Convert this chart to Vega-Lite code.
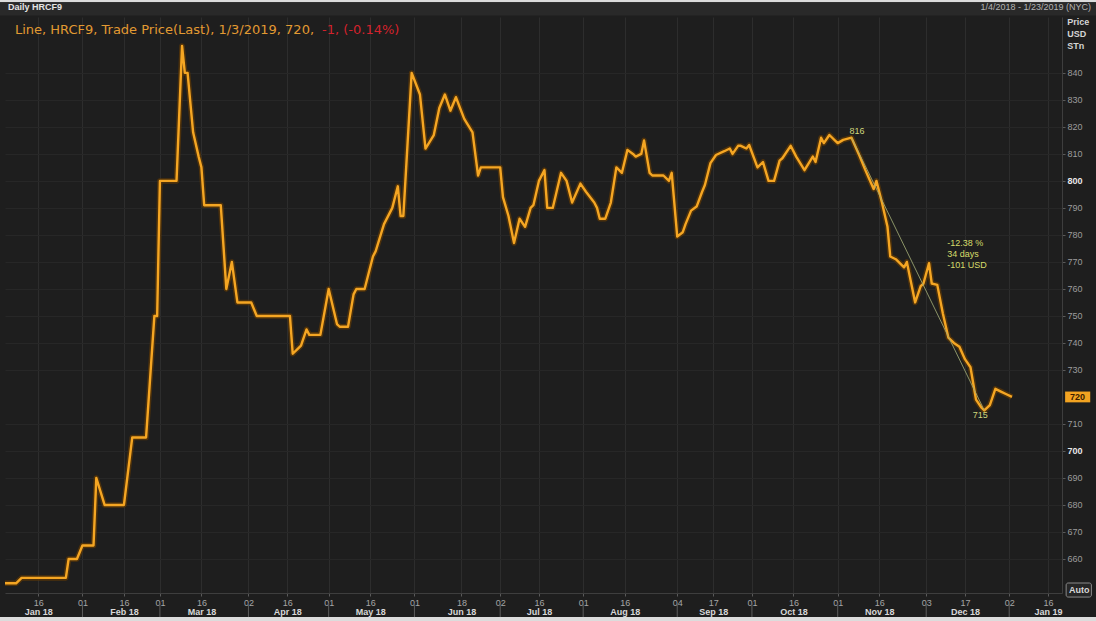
{
  "$schema": "https://vega.github.io/schema/vega-lite/v6.json",
  "width": 1057,
  "height": 576,
  "autosize": "none",
  "padding": {"left": 5, "top": 17, "right": 34, "bottom": 28},
  "background": "#1e1e1e",
  "config": {"view": {"stroke": null}, "font": "Liberation Sans"},
  "datasets": {
    "price": [
      {"date": "2018-01-04", "value": 651}, {"date": "2018-01-08", "value": 651}, {"date": "2018-01-10", "value": 653},
      {"date": "2018-01-26", "value": 653}, {"date": "2018-01-27", "value": 660}, {"date": "2018-01-30", "value": 660},
      {"date": "2018-02-01", "value": 665}, {"date": "2018-02-05", "value": 665}, {"date": "2018-02-06", "value": 690},
      {"date": "2018-02-09", "value": 680}, {"date": "2018-02-16", "value": 680}, {"date": "2018-02-19", "value": 705},
      {"date": "2018-02-24", "value": 705}, {"date": "2018-02-27", "value": 750}, {"date": "2018-02-28", "value": 750},
      {"date": "2018-03-01", "value": 800}, {"date": "2018-03-07", "value": 800}, {"date": "2018-03-09", "value": 850},
      {"date": "2018-03-10", "value": 840}, {"date": "2018-03-11", "value": 840}, {"date": "2018-03-13", "value": 818},
      {"date": "2018-03-15", "value": 809}, {"date": "2018-03-16", "value": 805}, {"date": "2018-03-17", "value": 791},
      {"date": "2018-03-23", "value": 791}, {"date": "2018-03-25", "value": 760}, {"date": "2018-03-27", "value": 770},
      {"date": "2018-03-29", "value": 755}, {"date": "2018-04-03", "value": 755}, {"date": "2018-04-05", "value": 750},
      {"date": "2018-04-17", "value": 750}, {"date": "2018-04-18", "value": 736}, {"date": "2018-04-20", "value": 738},
      {"date": "2018-04-21", "value": 739}, {"date": "2018-04-23", "value": 745}, {"date": "2018-04-24", "value": 743},
      {"date": "2018-04-28", "value": 743}, {"date": "2018-05-01", "value": 760}, {"date": "2018-05-04", "value": 747},
      {"date": "2018-05-05", "value": 746}, {"date": "2018-05-08", "value": 746}, {"date": "2018-05-10", "value": 758},
      {"date": "2018-05-11", "value": 760}, {"date": "2018-05-14", "value": 760}, {"date": "2018-05-17", "value": 772},
      {"date": "2018-05-18", "value": 774}, {"date": "2018-05-21", "value": 784}, {"date": "2018-05-24", "value": 790},
      {"date": "2018-05-26", "value": 798}, {"date": "2018-05-27", "value": 787}, {"date": "2018-05-28", "value": 787},
      {"date": "2018-05-31", "value": 840}, {"date": "2018-06-03", "value": 832}, {"date": "2018-06-05", "value": 812},
      {"date": "2018-06-08", "value": 817}, {"date": "2018-06-10", "value": 827}, {"date": "2018-06-12", "value": 832},
      {"date": "2018-06-14", "value": 826}, {"date": "2018-06-16", "value": 831}, {"date": "2018-06-19", "value": 823},
      {"date": "2018-06-22", "value": 818}, {"date": "2018-06-24", "value": 802}, {"date": "2018-06-25", "value": 805},
      {"date": "2018-07-02", "value": 805}, {"date": "2018-07-03", "value": 794}, {"date": "2018-07-05", "value": 787},
      {"date": "2018-07-07", "value": 777}, {"date": "2018-07-09", "value": 786}, {"date": "2018-07-11", "value": 783},
      {"date": "2018-07-13", "value": 790}, {"date": "2018-07-14", "value": 791}, {"date": "2018-07-16", "value": 800},
      {"date": "2018-07-18", "value": 804}, {"date": "2018-07-19", "value": 790}, {"date": "2018-07-21", "value": 790},
      {"date": "2018-07-24", "value": 803}, {"date": "2018-07-26", "value": 800}, {"date": "2018-07-28", "value": 792},
      {"date": "2018-07-31", "value": 799}, {"date": "2018-08-02", "value": 796}, {"date": "2018-08-05", "value": 792},
      {"date": "2018-08-06", "value": 790}, {"date": "2018-08-07", "value": 786}, {"date": "2018-08-09", "value": 786},
      {"date": "2018-08-11", "value": 792}, {"date": "2018-08-13", "value": 805}, {"date": "2018-08-15", "value": 803},
      {"date": "2018-08-17", "value": 811.5}, {"date": "2018-08-19", "value": 810}, {"date": "2018-08-20", "value": 809},
      {"date": "2018-08-22", "value": 810}, {"date": "2018-08-23", "value": 815}, {"date": "2018-08-25", "value": 803},
      {"date": "2018-08-26", "value": 802}, {"date": "2018-08-30", "value": 802}, {"date": "2018-09-01", "value": 800},
      {"date": "2018-09-02", "value": 803}, {"date": "2018-09-04", "value": 779.4}, {"date": "2018-09-06", "value": 781},
      {"date": "2018-09-07", "value": 784}, {"date": "2018-09-09", "value": 789}, {"date": "2018-09-11", "value": 790.5},
      {"date": "2018-09-13", "value": 796}, {"date": "2018-09-14", "value": 798.5}, {"date": "2018-09-16", "value": 806.6},
      {"date": "2018-09-18", "value": 809.6}, {"date": "2018-09-21", "value": 811}, {"date": "2018-09-23", "value": 812},
      {"date": "2018-09-24", "value": 810}, {"date": "2018-09-26", "value": 813}, {"date": "2018-09-27", "value": 813},
      {"date": "2018-09-29", "value": 812}, {"date": "2018-09-30", "value": 813.3}, {"date": "2018-10-03", "value": 805},
      {"date": "2018-10-05", "value": 807}, {"date": "2018-10-07", "value": 800}, {"date": "2018-10-09", "value": 800},
      {"date": "2018-10-11", "value": 807.5}, {"date": "2018-10-12", "value": 808.4}, {"date": "2018-10-15", "value": 813},
      {"date": "2018-10-17", "value": 809}, {"date": "2018-10-20", "value": 804}, {"date": "2018-10-23", "value": 809},
      {"date": "2018-10-24", "value": 807}, {"date": "2018-10-26", "value": 816}, {"date": "2018-10-27", "value": 814},
      {"date": "2018-10-29", "value": 817}, {"date": "2018-11-01", "value": 814}, {"date": "2018-11-03", "value": 815.2},
      {"date": "2018-11-06", "value": 816}, {"date": "2018-11-09", "value": 809}, {"date": "2018-11-11", "value": 804},
      {"date": "2018-11-14", "value": 797}, {"date": "2018-11-15", "value": 800}, {"date": "2018-11-17", "value": 792},
      {"date": "2018-11-19", "value": 783}, {"date": "2018-11-20", "value": 772}, {"date": "2018-11-22", "value": 771},
      {"date": "2018-11-25", "value": 768}, {"date": "2018-11-26", "value": 770}, {"date": "2018-11-29", "value": 755},
      {"date": "2018-12-01", "value": 761}, {"date": "2018-12-02", "value": 762}, {"date": "2018-12-04", "value": 769.5},
      {"date": "2018-12-05", "value": 762}, {"date": "2018-12-07", "value": 761.5}, {"date": "2018-12-09", "value": 751},
      {"date": "2018-12-11", "value": 742}, {"date": "2018-12-13", "value": 740}, {"date": "2018-12-15", "value": 738.6},
      {"date": "2018-12-17", "value": 734}, {"date": "2018-12-19", "value": 731}, {"date": "2018-12-20", "value": 725},
      {"date": "2018-12-21", "value": 719}, {"date": "2018-12-23", "value": 716}, {"date": "2018-12-24", "value": 715},
      {"date": "2018-12-26", "value": 717}, {"date": "2018-12-28", "value": 723}, {"date": "2018-12-30", "value": 722},
      {"date": "2019-01-01", "value": 721}, {"date": "2019-01-03", "value": 720}
    ],
    "trend": [
      {"date": "2018-11-06", "value": 816},
      {"date": "2018-12-24", "value": 715}
    ],
    "frame": [
      {"g": "border", "date": "2017-12-25", "date2": "2019-02-10", "value": 870, "value2": 866.2},
      {"g": "border", "date": "2017-12-25", "date2": "2019-02-10", "value": 638.5, "value2": 634},
      {"g": "band", "date": "2017-12-25", "date2": "2019-02-10", "value": 866.2, "value2": 861.3},
      {"g": "tag", "date": "2019-01-22T05:00:00Z", "date2": "2019-01-31T07:00:00Z", "value": 722, "value2": 718},
      {"g": "auto", "date": "2019-01-22T14:00:00Z", "date2": "2019-01-31T17:00:00Z", "value": 651.1, "value2": 645.9}
    ],
    "seps": [
      {"date": "2018-02-01"}, {"date": "2018-03-01"}, {"date": "2018-04-02"}, {"date": "2018-05-01"},
      {"date": "2018-06-01"}, {"date": "2018-07-02"}, {"date": "2018-08-01"}, {"date": "2018-09-04"},
      {"date": "2018-10-01"}, {"date": "2018-11-01"}, {"date": "2018-12-03"}, {"date": "2019-01-02"}
    ],
    "notes": [
      {"g": "hdr", "t": "Daily HRCF9", "date": "2018-01-05T02:00:00Z", "value": 864.3},
      {"g": "rng", "t": "1/4/2018 - 1/23/2019 (NYC)", "date": "2019-01-31T14:00:00Z", "value": 864.3},
      {"g": "unit", "t": "Price", "date": "2019-01-22T23:00:00Z", "value": 858.9},
      {"g": "unit", "t": "USD", "date": "2019-01-22T23:00:00Z", "value": 854.4},
      {"g": "unit", "t": "STn", "date": "2019-01-22T23:00:00Z", "value": 850.0},
      {"g": "leg", "t": "Line, HRCF9, Trade Price(Last), 1/3/2019, 720,", "date": "2018-01-07T14:00:00Z", "value": 855.9},
      {"g": "chg", "t": "-1, (-0.14%)", "date": "2018-04-28T14:00:00Z", "value": 855.9},
      {"g": "pt", "t": "816", "date": "2018-11-08T00:00:00Z", "value": 818.5},
      {"g": "pt", "t": "715", "date": "2018-12-22T12:00:00Z", "value": 713.3},
      {"g": "stat", "t": "-12.38 %", "date": "2018-12-10T14:00:00Z", "value": 777.0},
      {"g": "stat", "t": "34 days", "date": "2018-12-10T14:00:00Z", "value": 772.9},
      {"g": "stat", "t": "-101 USD", "date": "2018-12-10T14:00:00Z", "value": 768.9},
      {"g": "tag", "t": "720", "date": "2019-01-26T17:00:00Z", "value": 720},
      {"g": "auto", "t": "Auto", "date": "2019-01-27T07:00:00Z", "value": 648.5}
    ]
  },
  "layer": [
    {
      "data": {"name": "frame"},
      "transform": [{"filter": "datum.g === 'border'"}],
      "mark": {"type": "rect", "fill": "#dcdcdc"},
      "encoding": {
        "x": {"field": "date", "type": "temporal", "axis": null},
        "x2": {"field": "date2"},
        "y": {"field": "value", "type": "quantitative", "axis": null},
        "y2": {"field": "value2"}
      }
    },
    {
      "data": {"name": "frame"},
      "transform": [{"filter": "datum.g === 'band'"}],
      "mark": {"type": "rect", "fill": "#292929"},
      "encoding": {
        "x": {"field": "date", "type": "temporal", "axis": null},
        "x2": {"field": "date2"},
        "y": {"field": "value", "type": "quantitative", "axis": null},
        "y2": {"field": "value2"}
      }
    },
    {
      "data": {"name": "seps"},
      "mark": {"type": "rule", "stroke": "#5c5c5c", "strokeWidth": 1},
      "encoding": {
        "x": {"field": "date", "type": "temporal", "axis": null},
        "y": {"datum": 643.7, "type": "quantitative", "axis": null},
        "y2": {"datum": 638.5}
      }
    },
    {
      "data": {"name": "price"},
      "mark": {"type": "line", "stroke": "#5e3806", "strokeWidth": 5.5, "opacity": 0.75, "strokeJoin": "round"},
      "encoding": {
        "x": {
          "field": "date", "type": "temporal",
          "scale": {"type": "utc", "domain": [{"year": 2018, "month": 1, "date": 4, "utc": true}, {"year": 2019, "month": 1, "date": 21, "hours": 2, "utc": true}]},
          "axis": {
            "title": null,
            "values": [
              {"year": 2018, "month": 1, "date": 16, "utc": true}, {"year": 2018, "month": 2, "date": 1, "utc": true},
              {"year": 2018, "month": 2, "date": 16, "utc": true}, {"year": 2018, "month": 3, "date": 1, "utc": true},
              {"year": 2018, "month": 3, "date": 16, "utc": true}, {"year": 2018, "month": 4, "date": 2, "utc": true},
              {"year": 2018, "month": 4, "date": 16, "utc": true}, {"year": 2018, "month": 5, "date": 1, "utc": true},
              {"year": 2018, "month": 5, "date": 16, "utc": true}, {"year": 2018, "month": 6, "date": 1, "utc": true},
              {"year": 2018, "month": 6, "date": 18, "utc": true}, {"year": 2018, "month": 7, "date": 2, "utc": true},
              {"year": 2018, "month": 7, "date": 16, "utc": true}, {"year": 2018, "month": 8, "date": 1, "utc": true},
              {"year": 2018, "month": 8, "date": 16, "utc": true}, {"year": 2018, "month": 9, "date": 4, "utc": true},
              {"year": 2018, "month": 9, "date": 17, "utc": true}, {"year": 2018, "month": 10, "date": 1, "utc": true},
              {"year": 2018, "month": 10, "date": 16, "utc": true}, {"year": 2018, "month": 11, "date": 1, "utc": true},
              {"year": 2018, "month": 11, "date": 16, "utc": true}, {"year": 2018, "month": 12, "date": 3, "utc": true},
              {"year": 2018, "month": 12, "date": 17, "utc": true}, {"year": 2019, "month": 1, "date": 2, "utc": true},
              {"year": 2019, "month": 1, "date": 16, "utc": true}
            ],
            "labelExpr": "utcFormat(datum.value, '%d')",
            "grid": true, "gridColor": "#2d2d2d", "gridWidth": 1,
            "ticks": true, "tickColor": "#5a5a5a", "tickSize": 3,
            "domain": true, "domainColor": "#3e3e3e",
            "labelColor": "#a6a6a6", "labelFontSize": 9, "labelPadding": 2,
            "labelFlush": false, "labelOverlap": false
          }
        },
        "y": {
          "field": "value", "type": "quantitative",
          "scale": {"domain": [647.4, 860.7], "nice": false, "zero": false},
          "axis": {
            "orient": "right", "title": null,
            "values": [660, 670, 680, 690, 700, 710, 730, 740, 750, 760, 770, 780, 790, 800, 810, 820, 830, 840],
            "grid": true, "gridColor": "#272727",
            "tickColor": "#5a5a5a", "tickSize": 3,
            "domainColor": "#3e3e3e",
            "labelFontSize": 9, "labelPadding": 2,
            "labelColor": {"condition": {"test": "datum.value % 100 === 0", "value": "#e8e8e8"}, "value": "#9c9c9c"},
            "labelFontWeight": {"condition": {"test": "datum.value % 100 === 0", "value": "bold"}, "value": "normal"},
            "labelOverlap": false
          }
        }
      }
    },
    {
      "data": {"name": "price"},
      "mark": {"type": "line", "stroke": "#f5a623", "strokeWidth": 2.4, "strokeJoin": "round"},
      "encoding": {
        "x": {
          "field": "date", "type": "temporal",
          "axis": {
            "title": null,
            "values": [
              {"year": 2018, "month": 1, "date": 16, "utc": true}, {"year": 2018, "month": 2, "date": 16, "utc": true},
              {"year": 2018, "month": 3, "date": 16, "utc": true}, {"year": 2018, "month": 4, "date": 16, "utc": true},
              {"year": 2018, "month": 5, "date": 16, "utc": true}, {"year": 2018, "month": 6, "date": 18, "utc": true},
              {"year": 2018, "month": 7, "date": 16, "utc": true}, {"year": 2018, "month": 8, "date": 16, "utc": true},
              {"year": 2018, "month": 9, "date": 17, "utc": true}, {"year": 2018, "month": 10, "date": 16, "utc": true},
              {"year": 2018, "month": 11, "date": 16, "utc": true}, {"year": 2018, "month": 12, "date": 17, "utc": true},
              {"year": 2019, "month": 1, "date": 16, "utc": true}
            ],
            "labelExpr": "utcFormat(datum.value, '%b %y')",
            "orient": "bottom",
            "grid": false, "ticks": false, "domain": false,
            "labelColor": "#d8d8d8", "labelFontSize": 9, "labelFontWeight": "bold", "labelPadding": 14,
            "labelFlush": false, "labelOverlap": false
          }
        },
        "y": {"field": "value", "type": "quantitative", "axis": null}
      }
    },
    {
      "data": {"name": "trend"},
      "mark": {"type": "line", "stroke": "#9fa873", "strokeWidth": 1, "opacity": 0.85},
      "encoding": {
        "x": {"field": "date", "type": "temporal", "axis": null},
        "y": {"field": "value", "type": "quantitative", "axis": null}
      }
    },
    {
      "data": {"name": "frame"},
      "transform": [{"filter": "datum.g === 'tag'"}],
      "mark": {"type": "rect", "fill": "#f2a321"},
      "encoding": {
        "x": {"field": "date", "type": "temporal", "axis": null},
        "x2": {"field": "date2"},
        "y": {"field": "value", "type": "quantitative", "axis": null},
        "y2": {"field": "value2"}
      }
    },
    {
      "data": {"name": "frame"},
      "transform": [{"filter": "datum.g === 'auto'"}],
      "mark": {"type": "rect", "fill": "#262626", "stroke": "#8a8a8a", "strokeWidth": 1, "cornerRadius": 2},
      "encoding": {
        "x": {"field": "date", "type": "temporal", "axis": null},
        "x2": {"field": "date2"},
        "y": {"field": "value", "type": "quantitative", "axis": null},
        "y2": {"field": "value2"}
      }
    },
    {
      "data": {"name": "notes"},
      "transform": [{"filter": "datum.g === 'hdr'"}],
      "mark": {"type": "text", "align": "left", "baseline": "middle", "fontSize": 9, "fontWeight": "bold", "fill": "#e4e4e4"},
      "encoding": {
        "x": {"field": "date", "type": "temporal", "axis": null},
        "y": {"field": "value", "type": "quantitative", "axis": null},
        "text": {"field": "t"}
      }
    },
    {
      "data": {"name": "notes"},
      "transform": [{"filter": "datum.g === 'rng'"}],
      "mark": {"type": "text", "align": "right", "baseline": "middle", "fontSize": 9, "fill": "#b4b4b4"},
      "encoding": {
        "x": {"field": "date", "type": "temporal", "axis": null},
        "y": {"field": "value", "type": "quantitative", "axis": null},
        "text": {"field": "t"}
      }
    },
    {
      "data": {"name": "notes"},
      "transform": [{"filter": "datum.g === 'unit'"}],
      "mark": {"type": "text", "align": "left", "baseline": "middle", "fontSize": 9, "fontWeight": "bold", "fill": "#d4d4d4"},
      "encoding": {
        "x": {"field": "date", "type": "temporal", "axis": null},
        "y": {"field": "value", "type": "quantitative", "axis": null},
        "text": {"field": "t"}
      }
    },
    {
      "data": {"name": "notes"},
      "transform": [{"filter": "datum.g === 'leg'"}],
      "mark": {"type": "text", "align": "left", "baseline": "middle", "fontSize": 13, "font": "DejaVu Sans", "fill": "#e29a32"},
      "encoding": {
        "x": {"field": "date", "type": "temporal", "axis": null},
        "y": {"field": "value", "type": "quantitative", "axis": null},
        "text": {"field": "t"}
      }
    },
    {
      "data": {"name": "notes"},
      "transform": [{"filter": "datum.g === 'chg'"}],
      "mark": {"type": "text", "align": "left", "baseline": "middle", "fontSize": 13, "font": "DejaVu Sans", "fill": "#d3222c"},
      "encoding": {
        "x": {"field": "date", "type": "temporal", "axis": null},
        "y": {"field": "value", "type": "quantitative", "axis": null},
        "text": {"field": "t"}
      }
    },
    {
      "data": {"name": "notes"},
      "transform": [{"filter": "datum.g === 'pt'"}],
      "mark": {"type": "text", "align": "center", "baseline": "middle", "fontSize": 9, "fill": "#cfd67c"},
      "encoding": {
        "x": {"field": "date", "type": "temporal", "axis": null},
        "y": {"field": "value", "type": "quantitative", "axis": null},
        "text": {"field": "t"}
      }
    },
    {
      "data": {"name": "notes"},
      "transform": [{"filter": "datum.g === 'stat'"}],
      "mark": {"type": "text", "align": "left", "baseline": "middle", "fontSize": 9, "fill": "#d6dc6a"},
      "encoding": {
        "x": {"field": "date", "type": "temporal", "axis": null},
        "y": {"field": "value", "type": "quantitative", "axis": null},
        "text": {"field": "t"}
      }
    },
    {
      "data": {"name": "notes"},
      "transform": [{"filter": "datum.g === 'tag'"}],
      "mark": {"type": "text", "align": "center", "baseline": "middle", "fontSize": 9, "fontWeight": "bold", "fill": "#3a1c00"},
      "encoding": {
        "x": {"field": "date", "type": "temporal", "axis": null},
        "y": {"field": "value", "type": "quantitative", "axis": null},
        "text": {"field": "t"}
      }
    },
    {
      "data": {"name": "notes"},
      "transform": [{"filter": "datum.g === 'auto'"}],
      "mark": {"type": "text", "align": "center", "baseline": "middle", "fontSize": 9, "fontWeight": "bold", "fill": "#d8d8d8"},
      "encoding": {
        "x": {"field": "date", "type": "temporal", "axis": null},
        "y": {"field": "value", "type": "quantitative", "axis": null},
        "text": {"field": "t"}
      }
    }
  ],
  "resolve": {"axis": {"x": "independent", "y": "independent"}}
}
